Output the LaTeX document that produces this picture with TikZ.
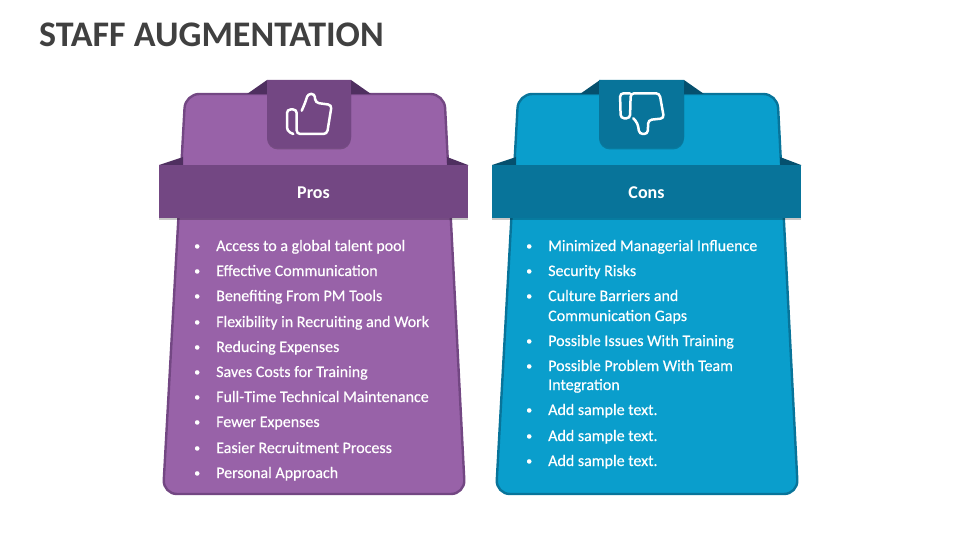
\documentclass[tikz,border=0pt]{standalone}
\usepackage{fontspec}
\setmainfont{Carlito}
\newfontfamily\listfont[FakeBold=0.35]{Carlito}
\usetikzlibrary{shadows}
\definecolor{prosbody}{HTML}{9862A8}
\definecolor{prosband}{HTML}{734783}
\definecolor{prosfold}{HTML}{4F2F60}
\definecolor{consbody}{HTML}{0A9ECC}
\definecolor{consband}{HTML}{08749A}
\definecolor{consfold}{HTML}{05506E}
\definecolor{titlegray}{HTML}{404040}
\tikzset{
  softshadow/.style={drop shadow={shadow xshift=0pt,shadow yshift=-1.5pt,fill=black,opacity=.22}},
  panelbody/.style={line width=2.4pt,rounded corners=14pt},
  bandbox/.style={minimum width=309pt,minimum height=53pt,inner sep=0pt,text=white,softshadow,
    font=\fontsize{18}{18}\selectfont\bfseries},
  listitem/.style={anchor=base west,inner sep=0pt,text=white,font=\fontsize{16}{16}\listfont},
  iconline/.style={draw=white,line width=2.5pt,rounded corners=3.5pt,line cap=round}
}
\newcommand{\dotted}[1]{\makebox[22pt][l]{\raisebox{1.2pt}{\fontsize{12}{12}\selectfont •}}#1}
\newcommand{\lowered}[1]{\raisebox{-1pt}[\height][\depth]{#1}}
\begin{document}
\begin{tikzpicture}[x=1pt,y=-1pt]
  \useasboundingbox (0,0) rectangle (960,540);
  \node[anchor=west,inner sep=0pt,text=titlegray,font=\fontsize{36}{36}\selectfont\bfseries] (title) at (39,35) {STAFF AUGMENTATION};

  \path[panelbody,fill=prosbody,draw=prosband] (185.3,94) -- (444.4,94) -- (465,494) -- (163,494) -- cycle;
  \fill[prosfold] (247,94) -- (267,80) -- (267,94) -- cycle;
  \fill[prosfold] (371,94) -- (351,80) -- (351,94) -- cycle;
  \fill[prosfold] (159,165) -- (183,157) -- (183,166) -- (159,166) -- cycle;
  \fill[prosfold] (468,165) -- (447,157) -- (447,166) -- (468,166) -- cycle;
  \path[fill=prosband,softshadow] (267,80) -- (351,80) [rounded corners=11pt] -- (351,148) -- (267,148) -- (267,120) [sharp corners] -- cycle;
  \node[bandbox,fill=prosband] (pros) at (313.5,191.5) {\lowered{Pros}};
  \draw[iconline] (293.3,134) -- (287,131) -- (287,109.5) -- (296.7,109.5) -- (296.7,134) -- (327,134) -- (331.7,105) -- (315.5,102.7) [rounded corners=2.8pt] -- (314.5,94) -- (308,94) -- (305,103) -- (301.7,110.7);

  \foreach \y/\txt in {246/Access to a global talent pool,271/Effective Communication,296/Benefiting From PM Tools,322/Flexibility in Recruiting and Work,347/Reducing Expenses,372/Saves Costs for Training,397/Full-Time Technical Maintenance,422/Fewer Expenses,448/Easier Recruitment Process,473/Personal Approach}
    \node[listitem] (pros-\y) at (194,\y+5) {\dotted{\txt}};

  \path[panelbody,fill=consbody,draw=consband] (518.3,94) -- (777.4,94) -- (798,494) -- (496,494) -- cycle;
  \fill[consfold] (580,94) -- (600,80) -- (600,94) -- cycle;
  \fill[consfold] (704,94) -- (684,80) -- (684,94) -- cycle;
  \fill[consfold] (492,165) -- (516,157) -- (516,166) -- (492,166) -- cycle;
  \fill[consfold] (801,165) -- (780,157) -- (780,166) -- (801,166) -- cycle;
  \path[fill=consband,softshadow] (599,80) -- (684,80) [rounded corners=11pt] -- (684,148) -- (599,148) -- (599,120) [sharp corners] -- cycle;
  \node[bandbox,fill=consband] (cons) at (646.5,191.5) {\lowered{Cons}};
  \draw[iconline] (630,93.3) -- (620,93.3) -- (620.7,118.3) -- (630,118.3) -- (630.7,93.3) -- (659.5,93.3) -- (664,118.3) -- (648.3,120) -- (647.7,134) -- (639.3,134) -- (637.7,123.3) -- (633.3,118.3);

  \foreach \y/\txt in {246/Minimized Managerial Influence,271/Security Risks,296/Culture Barriers and,341/Possible Issues With Training,366/Possible Problem With Team,410/Add sample text.,436/Add sample text.,461/Add sample text.}
    \node[listitem] (cons-\y) at (526,\y+5) {\dotted{\txt}};
  \node[listitem] (cons-316) at (548,321) {Communication Gaps};
  \node[listitem] (cons-385) at (548,390) {Integration};
\end{tikzpicture}
\end{document}
